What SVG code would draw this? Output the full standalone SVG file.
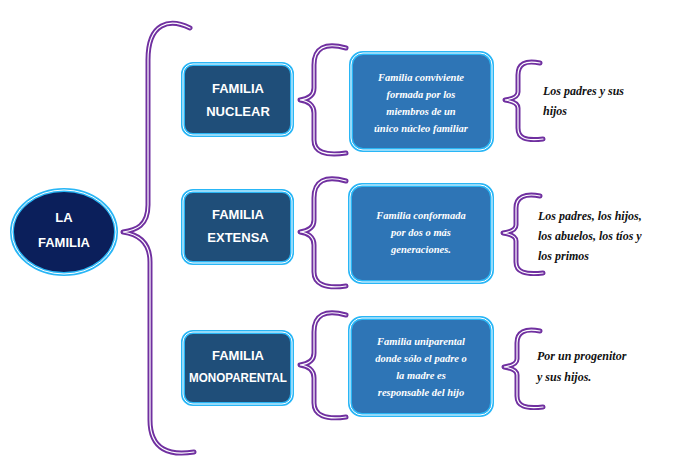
<svg xmlns="http://www.w3.org/2000/svg" width="674" height="475" viewBox="0 0 674 475">
<style>
.br{fill:none;stroke:#7030a0;stroke-width:5;stroke-linecap:round;stroke-linejoin:round}
.bw{fill:none;stroke:#fff;stroke-width:1.2;stroke-linecap:round}
.b1{fill:#1f4e79;stroke:#29b6f6;stroke-width:4}
.b2{fill:#2e75b6;stroke:#29b6f6;stroke-width:4}
.in{fill:none;stroke:#fff;stroke-width:1}
.t1{font-family:"Liberation Sans",Arial,sans-serif;font-weight:bold;font-size:13px;fill:#fff;text-anchor:middle}
.t2{font-family:"Liberation Serif",serif;font-style:italic;font-weight:bold;font-size:10.5px;fill:#fff;text-anchor:middle}
.t3{font-family:"Liberation Serif",serif;font-style:italic;font-weight:bold;font-size:12px;fill:#111}
</style>
<g id="connectors">
<path class="br" d="M190,28 C170,18 148,22 148,60 L148,205 C148,226 136,230 123,232 C136,234 150,240 150,262 L150,420 C150,450 170,456 194,452"/>
<path class="bw" d="M190,28 C170,18 148,22 148,60 L148,205 C148,226 136,230 123,232 C136,234 150,240 150,262 L150,420 C150,450 170,456 194,452"/>
<path class="br" d="M346,48 C325,42 314,48 314,65 L314,88 C314,96 308,99 300,100 C308,101 314,105 314,113 L314,140 C314,152 325,156 346,153"/>
<path class="bw" d="M346,48 C325,42 314,48 314,65 L314,88 C314,96 308,99 300,100 C308,101 314,105 314,113 L314,140 C314,152 325,156 346,153"/>
<path class="br" d="M346,181 C325,175 314,181 314,198 L314,220 C314,228 308,231 300,232 C308,233 314,237 314,245 L314,272 C314,284 325,289 346,286"/>
<path class="bw" d="M346,181 C325,175 314,181 314,198 L314,220 C314,228 308,231 300,232 C308,233 314,237 314,245 L314,272 C314,284 325,289 346,286"/>
<path class="br" d="M346,315 C325,309 314,315 314,332 L314,353 C314,361 308,364 300,365 C308,366 314,370 314,378 L314,403 C314,415 325,420 346,417"/>
<path class="bw" d="M346,315 C325,309 314,315 314,332 L314,353 C314,361 308,364 300,365 C308,366 314,370 314,378 L314,403 C314,415 325,420 346,417"/>
<path class="br" d="M540,63 C525,60 518,64 518,75 L518,92 C518,97 512,99 505,100 C512,101 518,103 518,108 L518,128 C518,138 525,141 543,139"/>
<path class="bw" d="M540,63 C525,60 518,64 518,75 L518,92 C518,97 512,99 505,100 C512,101 518,103 518,108 L518,128 C518,138 525,141 543,139"/>
<path class="br" d="M540,196 C525,193 516,197 516,208 L516,225 C516,230 510,232 503,233 C510,234 516,236 516,241 L516,262 C516,272 525,275 543,273"/>
<path class="bw" d="M540,196 C525,193 516,197 516,208 L516,225 C516,230 510,232 503,233 C510,234 516,236 516,241 L516,262 C516,272 525,275 543,273"/>
<path class="br" d="M540,331 C525,328 517,332 517,343 L517,359 C517,364 511,366 504,367 C511,368 517,370 517,375 L517,396 C517,406 525,409 543,407"/>
<path class="bw" d="M540,331 C525,328 517,332 517,343 L517,359 C517,364 511,366 504,367 C511,368 517,370 517,375 L517,396 C517,406 525,409 543,407"/>
</g>
<g id="root">
<ellipse cx="64" cy="232" rx="52" ry="42" fill="#0b1f5b" stroke="#29b6f6" stroke-width="4"/>
<ellipse cx="64" cy="232" rx="52" ry="42" class="in"/>
<text class="t1" x="64" y="222">LA</text>
<text class="t1" x="64" y="247">FAMILIA</text>
</g>
<g id="nuclear">
<rect class="b1" x="183" y="64" width="109" height="71" rx="10"/>
<rect class="in" x="183" y="64" width="109" height="71" rx="10"/>
<text class="t1" x="238" y="93">FAMILIA</text>
<text class="t1" x="238" y="116">NUCLEAR</text>
</g>
<g id="extensa">
<rect class="b1" x="183" y="191" width="109" height="72" rx="10"/>
<rect class="in" x="183" y="191" width="109" height="72" rx="10"/>
<text class="t1" x="238" y="219">FAMILIA</text>
<text class="t1" x="238" y="242">EXTENSA</text>
</g>
<g id="monoparental">
<rect class="b1" x="183" y="332" width="109" height="72" rx="10"/>
<rect class="in" x="183" y="332" width="109" height="72" rx="10"/>
<text class="t1" x="238" y="360">FAMILIA</text>
<text class="t1" x="238" y="382" style="font-size:12px" textLength="98" lengthAdjust="spacingAndGlyphs">MONOPARENTAL</text>
</g>
<g id="desc-nuclear">
<rect class="b2" x="351" y="53" width="141" height="97" rx="12"/>
<rect class="in" x="351" y="53" width="141" height="97" rx="12"/>
<text class="t2" x="421" y="81">Familia conviviente</text>
<text class="t2" x="421" y="98">formada por los</text>
<text class="t2" x="421" y="115">miembros de un</text>
<text class="t2" x="421" y="132">único núcleo familiar</text>
</g>
<g id="desc-extensa">
<rect class="b2" x="350" y="185" width="142" height="97" rx="12"/>
<rect class="in" x="350" y="185" width="142" height="97" rx="12"/>
<text class="t2" x="421" y="219">Familia conformada</text>
<text class="t2" x="421" y="236">por dos o más</text>
<text class="t2" x="421" y="253">generaciones.</text>
</g>
<g id="desc-mono">
<rect class="b2" x="350" y="318" width="142" height="97" rx="12"/>
<rect class="in" x="350" y="318" width="142" height="97" rx="12"/>
<text class="t2" x="421" y="345">Familia uniparental</text>
<text class="t2" x="421" y="362">donde sólo el padre o</text>
<text class="t2" x="421" y="379">la madre es</text>
<text class="t2" x="421" y="396">responsable del hijo</text>
</g>
<g id="res-nuclear">
<text class="t3" x="543" y="95">Los padres y sus</text>
<text class="t3" x="543" y="115">hijos</text>
</g>
<g id="res-extensa">
<text class="t3" x="538" y="220">Los padres,  los hijos,</text>
<text class="t3" x="538" y="240">los abuelos,  los tíos y</text>
<text class="t3" x="538" y="260">los primos</text>
</g>
<g id="res-mono">
<text class="t3" x="537" y="360">Por un progenitor</text>
<text class="t3" x="537" y="381">y sus hijos.</text>
</g>
</svg>
